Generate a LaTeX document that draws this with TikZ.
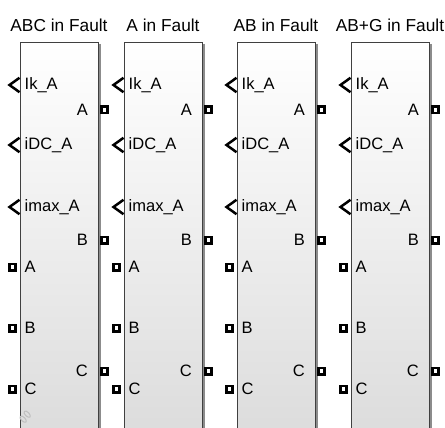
\documentclass[tikz,border=0pt]{standalone}
\usepackage{fontspec}
\setmainfont{Liberation Sans}
\usetikzlibrary{calc}
\begin{document}
\begin{tikzpicture}[x=1pt,y=-1pt,
  title/.style={font=\fontsize{17.3}{18}\selectfont, inner sep=0pt},
  lbl/.style={font=\fontsize{16.5}{17}\selectfont, inner sep=0pt},
  blockbox/.style={draw=black!75, line width=1pt, top color=white, bottom color=black!14},
  chev/.style={line width=2.5pt, black, miter limit=10},
  sqport/.style={draw=none, fill=black, minimum size=9pt, inner sep=0pt, outer sep=0pt},
  sqhole/.style={draw=none, fill=white, minimum size=3.5pt, inner sep=0pt}
]
\clip (0,0) rectangle (445,428);
\fill[white] (0,0) rectangle (445,428);
\foreach \L/\T/\n in {20/ABC in Fault/a, 124/A in Fault/b, 237/AB in Fault/c, 351/AB+G in Fault/d}{
  \pgfmathsetmacro{\R}{\L+78}
  \pgfmathsetmacro{\C}{\L+39}
  % shadow
  \draw[black!45, line width=2pt] (\R+1.5,44) -- (\R+1.5,440);
  \node[blockbox, anchor=north west, minimum width=78pt, minimum height=400pt, inner sep=0pt] (blk\n) at (\L,42) {};
  \node[title] (t\n) at (\C,25) {\T};
  % signal input chevrons
  \foreach \y/\s/\k in {85/Ik\_A/1, 145/iDC\_A/2, 207/imax\_A/3}{
    \coordinate (ch\n\k) at (\L-10.5,\y);
    \draw[chev] ($(ch\n\k)+(10,-7.2)$) -- (ch\n\k) -- ($(ch\n\k)+(10,7.2)$);
    \node[lbl, anchor=west] (in\n\k) at (\L+4.5,\y) {\s};
  }
  % right physical ports
  \foreach \y/\s/\k in {110/A/1, 240/B/2, 371/C/3}{
    \node[sqport] (rp\n\k) at (\R+6.5,\y) {};
    \node[sqhole] at (rp\n\k) {};
    \node[lbl, anchor=east] (rl\n\k) at (\R-10,\y) {\s};
  }
  % left physical ports
  \foreach \y/\s/\k in {267/A/1, 328/B/2, 389/C/3}{
    \node[sqport] (lp\n\k) at (\L-7.5,\y) {};
    \node[sqhole] at (lp\n\k) {};
    \node[lbl, anchor=west] (ll\n\k) at (\L+4.5,\y) {\s};
  }
}
% faint link icon
\draw[black!25, line width=1pt, rotate around={45:(26,422)}] (26,418) ellipse (2pt and 4pt);
\draw[black!25, line width=1pt, rotate around={45:(30,417)}] (30,413) ellipse (2pt and 4pt);
\end{tikzpicture}
\end{document}
